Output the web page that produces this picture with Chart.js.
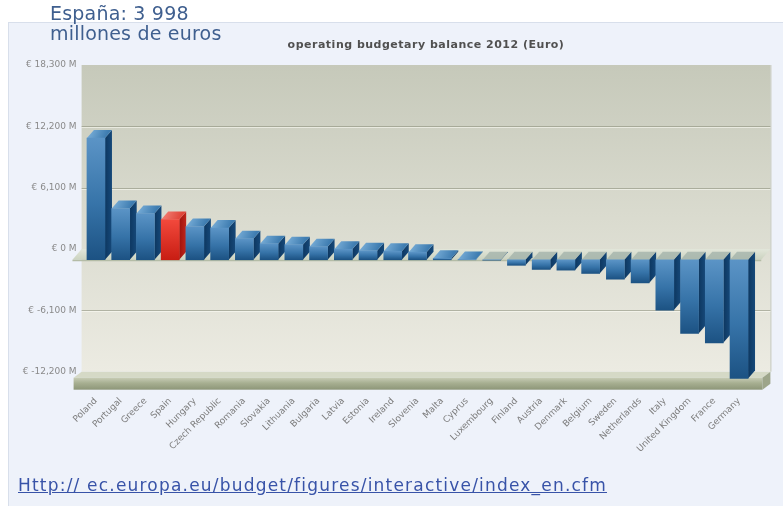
<!DOCTYPE html>
<html>
<head>
<meta charset="utf-8">
<script src="https://cdn.jsdelivr.net/npm/chart.js@4.4.1/dist/chart.umd.min.js"></script>
<style>
  html, body { margin: 0; padding: 0; background: #ffffff; }
  #wrap { position: relative; width: 783px; height: 506px; overflow: hidden; }
  #panel { position: absolute; left: 8px; top: 22px; width: 774px; height: 483px;
           background: #eef2fa; border: 1px solid #d8dfeb; }
  #note { position: absolute; left: 50px; top: 3px; font: 19px "DejaVu Sans", sans-serif;
          line-height: 20px; color: #3f5f8f; letter-spacing: 0.2px; }
  #title { position: absolute; left: 0; width: 852px; top: 38px; text-align: center;
           font: bold 11px "DejaVu Sans", sans-serif; color: #505050; letter-spacing: 0.5px; }
  #src { position: absolute; left: 18px; top: 475px; font: 17px "DejaVu Sans", sans-serif;
         color: #3853a8; text-decoration: underline; letter-spacing: 1.2px; }
  canvas { position: absolute; left: 0; top: 0; }
</style>
</head>
<body>
<div id="wrap">
  <div id="panel"></div>
  <canvas id="chart" width="783" height="506"></canvas>
  <div id="note">España: 3 998<br>millones de euros</div>
  <div id="title">operating budgetary balance 2012 (Euro)</div>
  <div id="src">Http:// ec.europa.eu/budget/figures/interactive/index_en.cfm</div>
</div>
<script>
// Member states, ordered from largest net receiver to largest net contributor
const categories = ['Poland', 'Portugal', 'Greece', 'Spain', 'Hungary', 'Czech Republic',
  'Romania', 'Slovakia', 'Lithuania', 'Bulgaria', 'Latvia', 'Estonia', 'Ireland', 'Slovenia',
  'Malta', 'Cyprus', 'Luxembourg', 'Finland', 'Austria', 'Denmark', 'Belgium', 'Sweden',
  'Netherlands', 'Italy', 'United Kingdom', 'France', 'Germany'];

// Operating budgetary balance 2012, million euro
const balanceMillions = [12100, 5100, 4600, 3998, 3300, 3150,
  2100, 1600, 1500, 1300, 1050, 900, 850, 750,
  150, 30, -40, -550, -960, -1030, -1360, -1930,
  -2300, -5000, -7330, -8260, -11800];

const highlighted = ['Spain'];

// Value axis ticks (million euro)
const yTicks = [-12200, -6100, 0, 6100, 12200, 18300];

// Perspective: the bar fronts sit in front of the wall, dropped by this many million euro
const FRONT_SHIFT = 1070;
const DEPTH_X = 7, DEPTH_Y = 8;

function poly(ctx, pts, fill) {
  ctx.beginPath();
  ctx.moveTo(pts[0][0], pts[0][1]);
  for (let i = 1; i < pts.length; i++) ctx.lineTo(pts[i][0], pts[i][1]);
  ctx.closePath();
  ctx.fillStyle = fill;
  ctx.fill();
}

function finite(...n) { return n.every(Number.isFinite); }

// Wall, grid lines, zero plate, floor and the bar side/top faces
const scene3d = {
  id: 'scene3d',
  beforeDraw(chart) {
    const { ctx, chartArea: a, scales } = chart;
    const y = scales.y, y2 = scales.y2;
    const wallL = a.left - 2, wallR = a.right + 19;
    const top = a.top, bottom = a.bottom;
    ctx.save();

    // back wall
    let g = ctx.createLinearGradient(0, top, 0, bottom);
    g.addColorStop(0, '#c6c9ba');
    g.addColorStop(0.5, '#dadbcf');
    g.addColorStop(1, '#ecebe2');
    ctx.fillStyle = g;
    ctx.fillRect(wallL, top, wallR - wallL, bottom - top);
    ctx.strokeStyle = '#c4c7b8';
    ctx.lineWidth = 1;
    ctx.beginPath();
    ctx.moveTo(wallR + 0.5, top); ctx.lineTo(wallR + 0.5, bottom);
    ctx.stroke();

    // grid lines on the wall
    y.ticks.forEach(t => {
      if (t.value === y.min || t.value === y.max || t.value === 0) return;
      const py = Math.round(y.getPixelForValue(t.value)) + 0.5;
      ctx.strokeStyle = 'rgba(135,138,118,0.55)';
      ctx.beginPath(); ctx.moveTo(wallL, py); ctx.lineTo(wallR, py); ctx.stroke();
      ctx.strokeStyle = 'rgba(255,255,248,0.55)';
      ctx.beginPath(); ctx.moveTo(wallL, py + 1); ctx.lineTo(wallR, py + 1); ctx.stroke();
    });

    // zero plate
    const z = y.getPixelForValue(0), zf = y2.getPixelForValue(0);
    const sh = (zf - z) * 0.85;
    g = ctx.createLinearGradient(0, z, 0, zf);
    g.addColorStop(0, '#e2e6da');
    g.addColorStop(1, '#cbd3c0');
    poly(ctx, [[wallL, z], [wallR, z], [wallR - sh, zf], [wallL - sh, zf]], g);
    poly(ctx, [[wallL - sh, zf], [wallR - sh, zf], [wallR - sh, zf + 1.5], [wallL - sh, zf + 1.5]], '#b4bca6');

    // floor slab
    const fl = wallL - 8, fr = wallR - 8;
    poly(ctx, [[wallL, bottom], [wallR, bottom], [fr, bottom + 6], [fl, bottom + 6]], '#d5d9c6');
    g = ctx.createLinearGradient(0, bottom + 6, 0, bottom + 18);
    g.addColorStop(0, '#c7ccb5');
    g.addColorStop(0.45, '#a7af91');
    g.addColorStop(1, '#8d9678');
    ctx.fillStyle = g;
    ctx.fillRect(fl, bottom + 6, fr - fl, 12);
    poly(ctx, [[fr, bottom + 6], [wallR, bottom], [wallR, bottom + 12], [fr, bottom + 18]], '#9da58a');
    ctx.restore();
  },
  beforeDatasetsDraw(chart) {
    const { ctx } = chart;
    const meta = chart.getDatasetMeta(0);
    ctx.save();
    meta.data.forEach((el, i) => {
      const p = el.getProps(['x', 'y', 'base', 'width'], true);
      if (!finite(p.x, p.y, p.base, p.width)) return;
      const l = p.x - p.width / 2, r = p.x + p.width / 2;
      const t = Math.min(p.y, p.base), b = Math.max(p.y, p.base);
      const hi = highlighted.includes(categories[i]);
      const v = balanceMillions[i];
      // side face
      let g = ctx.createLinearGradient(r, 0, r + DEPTH_X, 0);
      g.addColorStop(0, hi ? '#9e120c' : '#0d3760');
      g.addColorStop(1, hi ? '#c0261c' : '#16497a');
      poly(ctx, [[r, t], [r + DEPTH_X, t - DEPTH_Y], [r + DEPTH_X, b - DEPTH_Y], [r, b]], g);
      // top face
      if (v > 0) {
        g = ctx.createLinearGradient(l, t - DEPTH_Y, r, t);
        g.addColorStop(0, hi ? '#f5877c' : '#80b4dd');
        g.addColorStop(1, hi ? '#e0463a' : '#3f7db1');
        poly(ctx, [[l, t], [l + DEPTH_X, t - DEPTH_Y], [r + DEPTH_X, t - DEPTH_Y], [r, t]], g);
      } else {
        poly(ctx, [[l, t], [l + DEPTH_X, t - DEPTH_Y], [r + DEPTH_X, t - DEPTH_Y], [r, t]], 'rgba(160,176,168,0.75)');
      }
    });
    ctx.restore();
  }
};

function barFill(c) {
  const chart = c.chart;
  const s = chart.scales.y2;
  const v = balanceMillions[c.dataIndex];
  const hi = highlighted.includes(categories[c.dataIndex]);
  const flat = hi ? '#e63a2e' : '#2f6a9e';
  if (!s || v === undefined) return flat;
  const pTop = s.getPixelForValue(Math.max(v, 0));
  const pBot = s.getPixelForValue(Math.min(v, 0));
  if (!finite(pTop, pBot)) return flat;
  const g = chart.ctx.createLinearGradient(0, pTop, 0, pBot + 0.01);
  if (hi) {
    g.addColorStop(0, '#f2493c');
    g.addColorStop(1, '#c81d13');
  } else {
    g.addColorStop(0, '#5b94c6');
    g.addColorStop(0.55, '#3673a8');
    g.addColorStop(1, '#1c5283');
  }
  return g;
}

new Chart(document.getElementById('chart'), {
  type: 'bar',
  data: {
    labels: categories,
    datasets: [{
      data: balanceMillions,
      yAxisID: 'y2',
      backgroundColor: barFill,
      borderWidth: 0,
      barThickness: 18,
      clip: false
    }]
  },
  options: {
    responsive: false,
    animation: false,
    devicePixelRatio: 1,
    layout: { padding: { top: 65, right: 31.6, left: 0, bottom: 0 } },
    plugins: { legend: { display: false }, tooltip: { enabled: false }, title: { display: false } },
    scales: {
      x: {
        offset: true,
        grid: { display: false, drawTicks: false },
        border: { display: false },
        ticks: {
          autoSkip: false, minRotation: 45, maxRotation: 45, padding: 24,
          font: { family: 'DejaVu Sans', size: 9 }, color: '#7d7d7d'
        },
        afterFit: s => { s.height = 134.3; }
      },
      y: {
        min: yTicks[0],
        max: yTicks[yTicks.length - 1],
        grid: { display: false, drawTicks: false },
        border: { display: false },
        ticks: {
          stepSize: yTicks[1] - yTicks[0],
          padding: 7,
          font: { family: 'DejaVu Sans', size: 9 }, color: '#8a8a8a',
          callback: v => '€ ' + Number(v).toLocaleString('en-US') + ' M'
        },
        afterFit: s => { s.width = 83.6; }
      },
      y2: {
        display: false,
        min: yTicks[0] + FRONT_SHIFT,
        max: yTicks[yTicks.length - 1] + FRONT_SHIFT
      }
    }
  },
  plugins: [scene3d]
});
</script>
</body>
</html>
